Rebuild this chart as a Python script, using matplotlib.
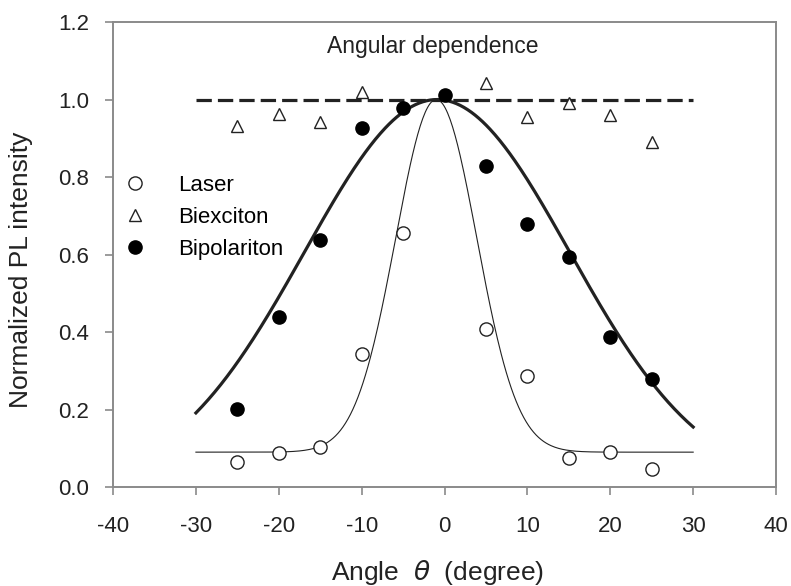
import numpy as np
import matplotlib
matplotlib.use("Agg")
import matplotlib.pyplot as plt

plt.rcParams['font.family'] = ['Liberation Sans', 'DejaVu Sans']
plt.rcParams['mathtext.fontset'] = 'dejavusans'
plt.rcParams['axes.unicode_minus'] = False

# measured points (angle in degree, normalized PL intensity)
laser_x = [-25, -20, -15, -10, -5, 5, 10, 15, 20, 25]
laser_y = [0.065, 0.088, 0.103, 0.343, 0.655, 0.408, 0.286, 0.075, 0.090, 0.046]

biex_x = [-25, -20, -15, -10, 5, 10, 15, 20, 25]
biex_y = [0.932, 0.963, 0.942, 1.019, 1.043, 0.955, 0.991, 0.960, 0.890]

bipol_x = [-25, -20, -15, -10, -5, 0, 5, 10, 15, 20, 25]
bipol_y = [0.201, 0.439, 0.637, 0.926, 0.978, 1.012, 0.828, 0.679, 0.594, 0.387, 0.279]

# gaussian fit parameters
bipol_fit = dict(center=-0.9, sigma=16.0, amp=1.0, base=0.0)
laser_fit = dict(center=-1.0, sigma=4.9, amp=0.91, base=0.09)
fit_range = (-30, 30)
biex_level = 1.0


def gauss(x, center, sigma, amp, base):
    return base + amp * np.exp(-(x - center) ** 2 / (2 * sigma ** 2))


xf = np.linspace(fit_range[0], fit_range[1], 400)

fig = plt.figure(figsize=(7.91, 5.86), dpi=100)
ax = fig.add_axes([0.1429, 0.1689, 0.8382, 0.7935])

ink = "#222222"
spine_c = "#8a8a8a"

ax.plot(fit_range, [biex_level, biex_level], color=ink, lw=2.3, dashes=(4.8, 1.9), zorder=2)
ax.plot(xf, gauss(xf, **bipol_fit), color=ink, lw=2.3, zorder=2)
ax.plot(xf, gauss(xf, **laser_fit), color=ink, lw=0.8, zorder=2)

ax.plot(laser_x, laser_y, 'o', ms=9.5, mfc='white', mec=ink, mew=1.0, ls='none', label='Laser', zorder=3)
ax.plot(biex_x, biex_y, '^', ms=8, mfc='white', mec=ink, mew=1.0, ls='none', label='Biexciton', zorder=3)
ax.plot(bipol_x, bipol_y, 'o', ms=9.5, mfc='black', mec='black', ls='none', label='Bipolariton', zorder=4)

ax.set_xlim(-40, 40)
ax.set_ylim(0, 1.2)
ax.set_xticks(np.arange(-40, 41, 10))
ax.set_yticks(np.arange(0, 1.21, 0.2))
ax.set_yticklabels([f"{v:.1f}" for v in np.arange(0, 1.21, 0.2)])

for s in ax.spines.values():
    s.set_color(spine_c)
    s.set_linewidth(1.4)
ax.tick_params(axis='both', colors=spine_c, labelcolor=ink, labelsize=16, length=6, width=1.2, direction='out')
ax.tick_params(axis='x', pad=15)
ax.tick_params(axis='y', pad=11)

ax.set_xlabel(r"Angle  $\theta$  (degree)", fontsize=19, color=ink)
ax.set_ylabel("Normalized PL intensity", fontsize=19, color=ink)
ax.xaxis.set_label_coords(0.49, -0.152)
ax.yaxis.set_label_coords(-0.121, 0.467)

ax.text(-1.45, 1.136, "Angular dependence", fontsize=16.5, color=ink, ha='center', va='center')

ax.legend(loc='upper left', bbox_to_anchor=(0.0166, 0.672), frameon=False, fontsize=16,
          borderpad=0, borderaxespad=0, handlelength=1.0, handletextpad=1.45,
          labelspacing=0.5, numpoints=1)

fig.savefig("out.png", dpi=100)
